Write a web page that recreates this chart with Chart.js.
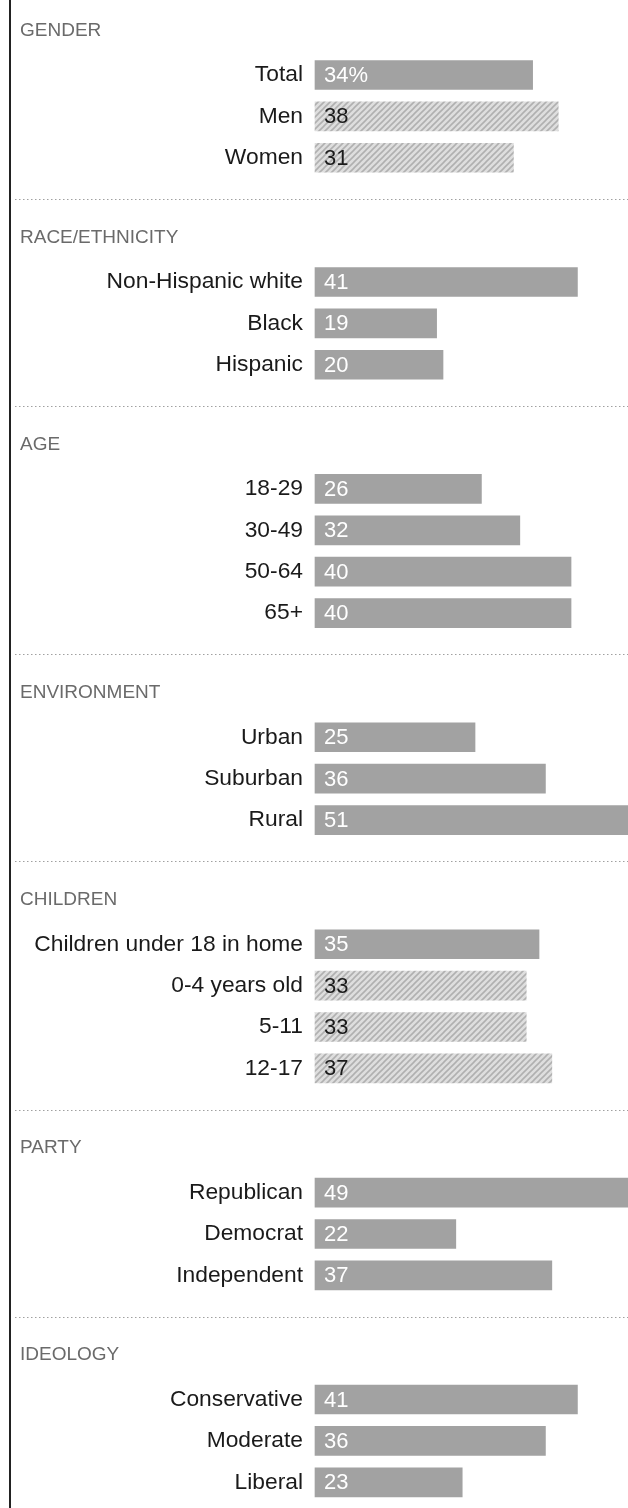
<!DOCTYPE html>
<html lang="en">
<head>
<meta charset="UTF-8">
<title>Share by group</title>
<script src="https://cdn.jsdelivr.net/npm/chart.js@4.4.1/dist/chart.umd.min.js"></script>
<style>
    html, body { margin: 0; padding: 0; background: #fff; }
    .chart-wrap { position: relative; width: 628px; height: 1508px; }
</style>
</head>
<body>
<div class="chart-wrap"><canvas id="groupChart"></canvas></div>
<script>
// Section headings, row labels and percentages
const sectionNames = ['GENDER', 'RACE/ETHNICITY', 'AGE', 'ENVIRONMENT', 'CHILDREN', 'PARTY', 'IDEOLOGY'];

const genderLabels = ['Total', 'Men', 'Women'];
const genderValues = [34, 38, 31];
const raceLabels = ['Non-Hispanic white', 'Black', 'Hispanic'];
const raceValues = [41, 19, 20];
const ageLabels = ['18-29', '30-49', '50-64', '65+'];
const ageValues = [26, 32, 40, 40];
const environmentLabels = ['Urban', 'Suburban', 'Rural'];
const environmentValues = [25, 36, 51];
const childrenLabels = ['Children under 18 in home', '0-4 years old', '5-11', '12-17'];
const childrenValues = [35, 33, 33, 37];
const partyLabels = ['Republican', 'Democrat', 'Independent'];
const partyValues = [49, 22, 37];
const ideologyLabels = ['Conservative', 'Moderate', 'Liberal'];
const ideologyValues = [41, 36, 23];

// Sub-groups that get the hatched fill
const hatchedLabels = ['Men', 'Women', '0-4 years old', '5-11', '12-17'];

const FONT = '"Liberation Sans", Arial, sans-serif';

document.addEventListener('DOMContentLoaded', function() {
    const sectionLabels = [genderLabels, raceLabels, ageLabels, environmentLabels, childrenLabels, partyLabels, ideologyLabels];
    const sectionValues = [genderValues, raceValues, ageValues, environmentValues, childrenValues, partyValues, ideologyValues];

    // Flatten into rows: every section after the first gets a divider row and a heading row
    const rowLabels = [];
    const rowValues = [];
    const sectionStarts = [];
    sectionLabels.forEach((labels, s) => {
        if (s > 0) {
            rowLabels.push('', '');
            rowValues.push(null, null);
        }
        sectionStarts.push(rowLabels.length);
        labels.forEach((label, i) => {
            rowLabels.push(label);
            rowValues.push(sectionValues[s][i]);
        });
    });

    const canvas = document.getElementById('groupChart');
    const hatch = makeHatch(canvas.getContext('2d'));
    const barColors = rowLabels.map(label => hatchedLabels.includes(label) ? hatch : '#a2a2a2');

    // Headings, dotted dividers and the left rule
    const sectionDecor = {
        id: 'sectionDecor',
        afterDraw(chart) {
            const ctx = chart.ctx;
            const yScale = chart.scales.y;
            const step = yScale.getPixelForValue(1) - yScale.getPixelForValue(0);
            ctx.save();
            ctx.fillStyle = '#222';
            ctx.fillRect(9, 0, 2, chart.height);

            sectionStarts.forEach((rowIndex, s) => {
                const y0 = yScale.getPixelForValue(rowIndex);
                ctx.fillStyle = '#6a6a6a';
                ctx.font = '400 19px ' + FONT;
                ctx.textAlign = 'left';
                ctx.textBaseline = 'middle';
                ctx.fillText(sectionNames[s], 20, y0 - step - 3);

                if (s > 0) {
                    const yd = Math.round(y0 - 2 * step) + 0.5;
                    ctx.strokeStyle = '#a0a0a0';
                    ctx.lineWidth = 1;
                    ctx.setLineDash([1.5, 2.5]);
                    ctx.beginPath();
                    ctx.moveTo(15, yd);
                    ctx.lineTo(chart.width, yd);
                    ctx.stroke();
                    ctx.setLineDash([]);
                }
            });
            ctx.restore();
        },
        // Value labels inside the bars
        afterDatasetsDraw(chart) {
            const ctx = chart.ctx;
            const meta = chart.getDatasetMeta(0);
            ctx.save();
            ctx.font = '400 22px ' + FONT;
            ctx.textAlign = 'left';
            ctx.textBaseline = 'middle';
            meta.data.forEach((bar, i) => {
                const v = rowValues[i];
                if (v === null) return;
                ctx.fillStyle = hatchedLabels.includes(rowLabels[i]) ? '#1a1a1a' : '#ffffff';
                ctx.fillText(i === 0 ? v + '%' : String(v), bar.base + 9, bar.y + 1);
            });
            ctx.restore();
        }
    };

    new Chart(canvas, {
        type: 'bar',
        data: {
            labels: rowLabels,
            datasets: [{
                data: rowValues,
                backgroundColor: barColors,
                borderWidth: 0,
                barThickness: 29,
                clip: false
            }]
        },
        options: {
            indexAxis: 'y',
            responsive: true,
            maintainAspectRatio: false,
            animation: false,
            layout: {
                padding: { top: 75, bottom: 14, left: 0, right: 0 }
            },
            plugins: {
                legend: { display: false },
                tooltip: { enabled: false }
            },
            scales: {
                x: {
                    type: 'linear',
                    min: 0,
                    max: 48.9,
                    display: false
                },
                y: {
                    type: 'category',
                    offset: false,
                    grid: { display: false, drawTicks: false },
                    border: { display: false },
                    ticks: {
                        autoSkip: false,
                        padding: 12,
                        color: '#1a1a1a',
                        font: { family: FONT, size: 22.8 }
                    },
                    afterFit(scale) {
                        scale.width = 315;
                    }
                }
            }
        },
        plugins: [sectionDecor]
    });
});

// Light grey fill with diagonal stripes for the sub-group bars
function makeHatch(ctx) {
    const size = 6;
    const tile = document.createElement('canvas');
    tile.width = size;
    tile.height = size;
    const g = tile.getContext('2d');
    g.fillStyle = '#dedede';
    g.fillRect(0, 0, size, size);
    g.strokeStyle = '#b0b0b0';
    g.lineWidth = 1.6;
    g.beginPath();
    g.moveTo(-1, size + 1);
    g.lineTo(size + 1, -1);
    g.moveTo(-1, 1);
    g.lineTo(1, -1);
    g.moveTo(size - 1, size + 1);
    g.lineTo(size + 1, size - 1);
    g.stroke();
    return ctx.createPattern(tile, 'repeat');
}
</script>
</body>
</html>
